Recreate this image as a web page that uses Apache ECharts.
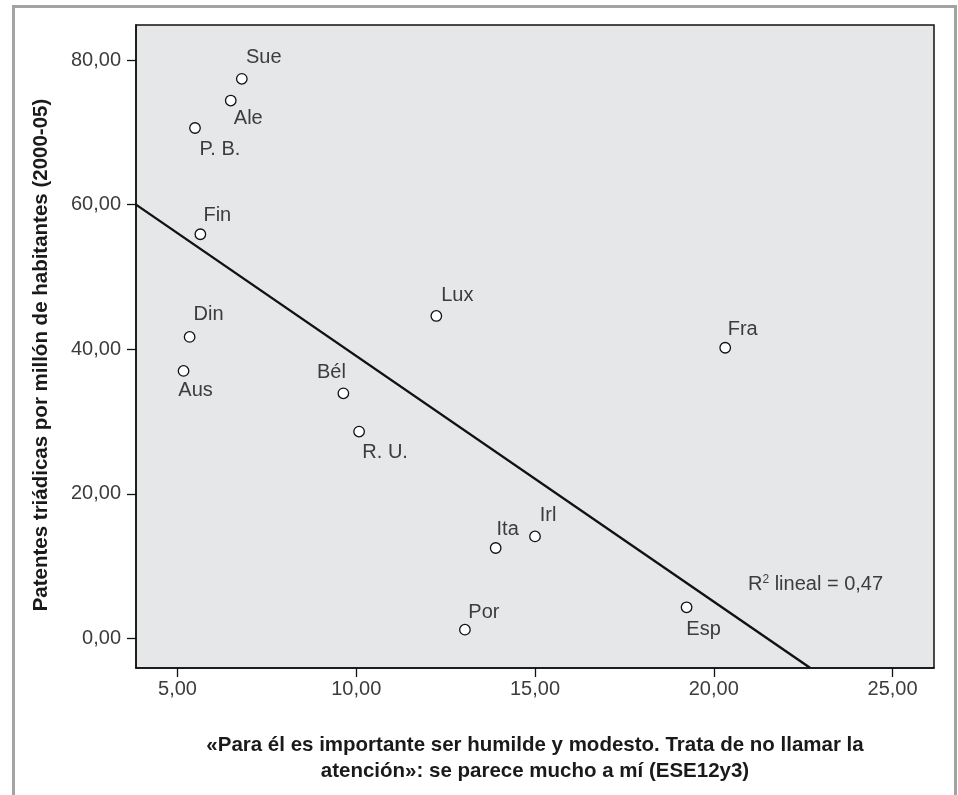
<!DOCTYPE html>
<html>
<head>
<meta charset="utf-8">
<script src="https://cdn.jsdelivr.net/npm/echarts@6/dist/echarts.min.js"></script>
<style>
html,body{margin:0;padding:0;background:#fff;}
#chart{width:958px;height:795px;}
</style>
</head>
<body>
<div id="chart"></div>
<script>
// ---- data ----
const countries = ['Sue', 'Ale', 'P. B.', 'Fin', 'Lux', 'Bél', 'R. U.', 'Din', 'Aus', 'Fra', 'Ita', 'Irl', 'Por', 'Esp'];
const humildad  = [6.80, 6.49, 5.49, 5.64, 12.24, 9.64, 10.08, 5.34, 5.17, 20.32, 13.90, 15.00, 13.04, 19.24];
const patentes  = [77.4, 74.4, 70.6, 55.9, 44.6, 33.9, 28.6, 41.7, 37.0, 40.2, 12.5, 14.1, 1.2, 4.3];
const fitLineX  = [3.84, 22.69];
const fitLineY  = [60.0, -4.08];
const xTicks = [5, 10, 15, 20, 25];
const yTicks = [0, 20, 40, 60, 80];
const xTitle = '«Para él es importante ser humilde y modesto. Trata de no llamar la\natención»: se parece mucho a mí (ESE12y3)';
const yTitle = 'Patentes triádicas por millón de habitantes (2000-05)';

// ---- styles (label placement per point, in pixels) ----
const labelOffsets = {
  'Sue': [22, -21], 'Ale': [17.5, 18], 'P. B.': [25, 21.5], 'Fin': [17, -19],
  'Lux': [21, -20.5], 'Bél': [-12, -20.5], 'R. U.': [26, 21], 'Din': [19, -22],
  'Aus': [12, 19.5], 'Fra': [17.5, -18.5], 'Ita': [12, -19], 'Irl': [13, -21],
  'Por': [19, -17], 'Esp': [17, 22]
};

const FONT = '"Liberation Sans", Arial, Helvetica, sans-serif';
const fmt = v => v.toFixed(2).replace('.', ',');

const scatterData = countries.map((c, i) => ({
  name: c,
  value: [humildad[i], patentes[i]],
  label: { offset: labelOffsets[c] }
}));
const lineData = fitLineX.map((x, i) => [x, fitLineY[i]]);

const chart = echarts.init(document.getElementById('chart'), null, {renderer: 'canvas'});
chart.setOption({
  animation: false,
  backgroundColor: '#ffffff',
  grid: {
    left: 136, right: 24, top: 25, bottom: 127,
    show: true, backgroundColor: '#e6e7e8', borderColor: '#111', borderWidth: 1.5
  },
  xAxis: {
    type: 'value', min: 3.84, max: 26.16,
    name: xTitle,
    nameLocation: 'middle', nameGap: 64,
    nameTextStyle: {fontFamily: FONT, fontSize: 20.5, fontWeight: 'bold', color: '#1a1a1a', lineHeight: 26, align: 'center'},
    axisLine: {show: true, onZero: false, lineStyle: {color: '#111', width: 1.5}},
    axisTick: {show: true, length: 9, customValues: xTicks, lineStyle: {color: '#111', width: 1.3}},
    axisLabel: {customValues: xTicks, formatter: fmt, margin: 11, fontFamily: FONT, fontSize: 20, color: '#3c3c3c'},
    splitLine: {show: false}
  },
  yAxis: {
    type: 'value', min: -4.1, max: 84.85,
    axisLine: {show: true, onZero: false, lineStyle: {color: '#111', width: 1.5}},
    axisTick: {show: true, length: 9, customValues: yTicks, lineStyle: {color: '#111', width: 1.3}},
    axisLabel: {customValues: yTicks, formatter: fmt, margin: 15, fontFamily: FONT, fontSize: 20, color: '#3c3c3c'},
    splitLine: {show: false}
  },
  graphic: [
    {type: 'rect', left: 11, top: 4, z: 100, silent: true,
     shape: {width: 942, height: 820}, style: {fill: null, stroke: '#a3a3a3', lineWidth: 3}},
    {type: 'text', x: 41, y: 355, rotation: Math.PI / 2, z: 100, silent: true,
     style: {text: yTitle, fontFamily: FONT, fontSize: 20.5, fontWeight: 'bold', fill: '#1a1a1a',
             align: 'center', verticalAlign: 'middle'}},
    {type: 'text', left: 748, top: 574, z: 100, silent: true,
     style: {
       text: '{n|R}{s|2}{n| lineal = 0,47}',
       rich: {
         n: {fontFamily: FONT, fontSize: 20, fill: '#3c3c3c'},
         s: {fontFamily: FONT, fontSize: 12, fill: '#3c3c3c', verticalAlign: 'top', padding: [0, 0, 8, 0]}
       }
     }}
  ],
  series: [
    {
      type: 'line', data: lineData, showSymbol: false, silent: true, clip: true,
      lineStyle: {color: '#111', width: 2.4}, z: 2
    },
    {
      type: 'scatter', data: scatterData, symbol: 'circle', symbolSize: 10.5, z: 3,
      itemStyle: {color: '#ffffff', borderColor: '#111', borderWidth: 1.3, opacity: 1},
      label: {
        show: true, formatter: '{b}', position: 'inside',
        fontFamily: FONT, fontSize: 20, color: '#3c3c3c'
      }
    }
  ]
});
</script>
</body>
</html>
